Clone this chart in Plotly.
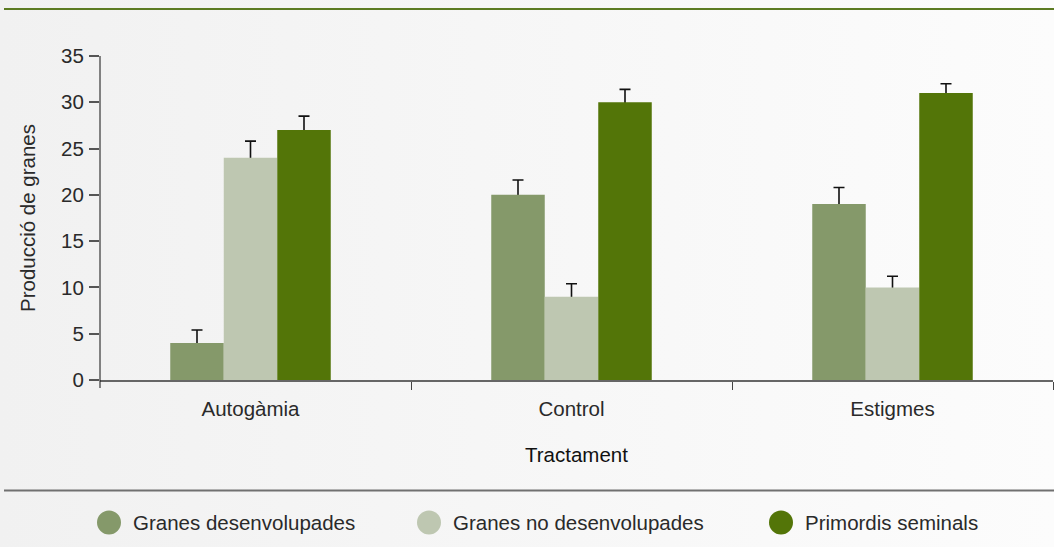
import base64
import plotly.graph_objects as go

# Data
categories = ["Autogàmia", "Control", "Estigmes"]
series_names = ["Granes desenvolupades", "Granes no desenvolupades", "Primordis seminals"]
developed = [4, 20, 19]
developed_err = [1.4, 1.6, 1.8]
undeveloped = [24, 9, 10]
undeveloped_err = [1.8, 1.4, 1.2]
primordia = [27, 30, 31]
primordia_err = [1.5, 1.4, 1.0]
y_ticks = [0, 5, 10, 15, 20, 25, 30, 35]

# Styling
colors = ["#85996a", "#bec7b1", "#537508"]
FONT = "Liberation Sans"
FS = 20.5
TEXT = "#2a2a2a"
W, H = 1054, 547
L, R, T, B = 100, 1, 56, 167
PW, PH = W - L - R, H - T - B


def px_x(px):
    return (px - L) / PW


def px_y(py):
    return (H - B - py) / PH


fig = go.Figure()
values = [developed, undeveloped, primordia]
errors = [developed_err, undeveloped_err, primordia_err]

# Upper error whiskers: drawn first on transparent bars so the opaque bars
# added afterwards hide everything below each bar top.
for i, (name, vals, errs) in enumerate(zip(series_names, values, errors)):
    fig.add_trace(go.Bar(
        x=categories, y=vals, name=name, offsetgroup=str(i),
        marker=dict(color="rgba(0,0,0,0)", line=dict(width=0)),
        error_y=dict(type="data", array=errs, arrayminus=vals, symmetric=False,
                     color="#111111", thickness=1.6, width=5.5),
        showlegend=False, hoverinfo="skip",
    ))

for i, (name, vals, col) in enumerate(zip(series_names, values, colors)):
    fig.add_trace(go.Bar(
        x=categories, y=vals, name=name, offsetgroup=str(i),
        marker=dict(color=col, line=dict(width=0)),
        showlegend=False,
    ))

# background gradient
svg = ('<svg xmlns="http://www.w3.org/2000/svg" width="%d" height="%d">'
       '<defs><linearGradient id="g" x1="0" y1="0" x2="1" y2="0">'
       '<stop offset="0" stop-color="#f1f1f1"/><stop offset="1" stop-color="#fcfcfc"/>'
       '</linearGradient></defs><rect width="%d" height="%d" fill="url(#g)"/></svg>') % (W, H, W, H)
bg = "data:image/svg+xml;base64," + base64.b64encode(svg.encode()).decode()

shapes = [
    # top rule
    dict(type="line", xref="paper", yref="paper", x0=px_x(4), x1=px_x(W), y0=px_y(9), y1=px_y(9),
         line=dict(color="#5c7b22", width=2)),
    # bottom separator
    dict(type="line", xref="paper", yref="paper", x0=px_x(4), x1=px_x(W), y0=px_y(490.5), y1=px_y(490.5),
         line=dict(color="#707070", width=2)),
    # y axis line, running slightly below the baseline
    dict(type="line", xref="paper", yref="paper", x0=0, x1=0, y0=px_y(388), y1=1,
         line=dict(color="#111111", width=1)),
]

annotations = []
legend_keys = [109, 429, 781]
for kx, name, col in zip(legend_keys, series_names, colors):
    shapes.append(dict(type="circle", xref="paper", yref="paper", xsizemode="pixel", ysizemode="pixel",
                       xanchor=px_x(kx), yanchor=px_y(522.5), x0=-12, x1=12, y0=-12, y1=12,
                       fillcolor=col, line=dict(width=0)))
    annotations.append(dict(xref="paper", yref="paper", x=px_x(kx + 22), y=px_y(522.5), text=name,
                            showarrow=False, xanchor="left", yanchor="middle",
                            font=dict(family=FONT, size=FS, color=TEXT)))

fig.update_layout(
    width=W, height=H,
    margin=dict(l=L, r=R, t=T, b=B),
    paper_bgcolor="#f6f6f6", plot_bgcolor="rgba(0,0,0,0)",
    images=[dict(source=bg, xref="paper", yref="paper", x=px_x(0), y=px_y(0),
                 sizex=W / PW, sizey=H / PH, xanchor="left", yanchor="top",
                 sizing="stretch", layer="below")],
    barmode="group", bargap=0.5, bargroupgap=0,
    font=dict(family=FONT, size=FS, color=TEXT),
    shapes=shapes, annotations=annotations,
    showlegend=False,
    xaxis=dict(
        type="category", range=[-0.5 + 10 / 321, 2.5],
        showline=True, linecolor="#666666", linewidth=1.5,
        ticks="outside", tickson="boundaries", ticklen=8, tickcolor="#444444", tickwidth=1,
        tickfont=dict(family=FONT, size=FS, color=TEXT), ticklabelstandoff=10,
        title=dict(text="Tractament", font=dict(family=FONT, size=FS, color="#111111"), standoff=28),
        showgrid=False, zeroline=False,
    ),
    yaxis=dict(
        range=[0, 35], tickvals=y_ticks,
        showline=False,
        ticks="outside", ticklen=10, tickcolor="#555555", tickwidth=1.5,
        tickfont=dict(family=FONT, size=FS, color=TEXT), ticklabelstandoff=1,
        title=dict(text="Producció de granes", font=dict(family=FONT, size=FS, color=TEXT), standoff=19),
        showgrid=False, zeroline=False,
    ),
)

fig.write_html("out.html")
